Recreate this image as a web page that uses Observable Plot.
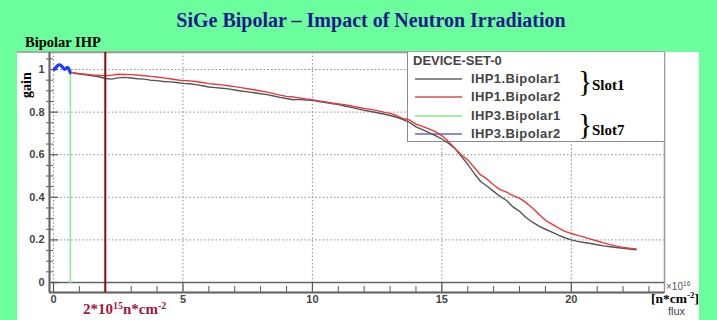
<!DOCTYPE html>
<html>
<head>
<meta charset="utf-8">
<script src="https://cdn.jsdelivr.net/npm/d3@7"></script>
<script src="https://cdn.jsdelivr.net/npm/@observablehq/plot@0.6"></script>
<style>
  body { margin: 0; }
  #root { position: relative; width: 717px; height: 320px; background: #6cfd9c; overflow: hidden; }
  .abs { position: absolute; white-space: nowrap; }
  .serif { font-family: "Liberation Serif", "Times New Roman", serif; font-weight: bold; }
  .sans { font-family: "Liberation Sans", Arial, sans-serif; }
  .sup { font-size: 0.66em; vertical-align: 0.55em; line-height: 0; }
  svg { position: absolute; left: 0; top: 0; }
</style>
</head>
<body>
<div id="root">
  <div class="abs" style="left:17px;top:52px;width:682px;height:268px;background:#fff"></div>
  <div class="abs" style="left:17px;top:51px;width:647px;height:2px;background:#aaa"></div>
  <div id="base"></div>
  <div id="legend"></div>
  <div id="curves"></div>
  <div id="texts"></div>
</div>
<script>
// ---- data ----
const flux = [0.75,1.00,1.25,1.50,1.75,2.00,2.25,2.50,2.75,3.00,3.25,3.50,3.75,4.00,4.25,4.50,4.75,5.00,5.25,5.50,5.75,6.00,6.25,6.50,6.75,7.00,7.25,7.50,7.75,8.00,8.25,8.50,8.75,9.00,9.25,9.50,9.75,10.00,10.25,10.50,10.75,11.00,11.25,11.50,11.75,12.00,12.25,12.50,12.75,13.00,13.25,13.50,13.75,14.00,14.25,14.50,14.75,15.00,15.25,15.50,15.75,16.00,16.25,16.50,16.75,17.00,17.25,17.50,17.75,18.00,18.25,18.50,18.75,19.00,19.25,19.50,19.75,20.00,20.25,20.50,20.75,21.00,21.25,21.50,21.75,22.00,22.25,22.50];
const gainIHP1Bipolar1 = [0.984,0.979,0.975,0.971,0.966,0.958,0.955,0.961,0.963,0.960,0.957,0.955,0.950,0.948,0.944,0.942,0.939,0.935,0.933,0.929,0.924,0.918,0.915,0.912,0.909,0.904,0.899,0.895,0.891,0.886,0.882,0.876,0.869,0.864,0.858,0.860,0.857,0.855,0.850,0.845,0.840,0.835,0.829,0.822,0.815,0.808,0.803,0.797,0.791,0.784,0.776,0.765,0.752,0.731,0.718,0.704,0.690,0.674,0.654,0.630,0.592,0.555,0.512,0.474,0.452,0.428,0.404,0.385,0.355,0.334,0.305,0.283,0.265,0.250,0.236,0.222,0.210,0.200,0.193,0.188,0.183,0.177,0.172,0.168,0.164,0.160,0.157,0.154];
const gainIHP1Bipolar2 = [0.985,0.981,0.978,0.975,0.973,0.970,0.974,0.978,0.977,0.976,0.974,0.971,0.968,0.965,0.961,0.957,0.952,0.948,0.947,0.944,0.939,0.934,0.931,0.928,0.924,0.920,0.915,0.910,0.905,0.899,0.894,0.887,0.880,0.874,0.871,0.867,0.862,0.858,0.853,0.848,0.843,0.839,0.835,0.829,0.823,0.817,0.813,0.807,0.800,0.794,0.784,0.770,0.763,0.744,0.733,0.721,0.708,0.690,0.662,0.630,0.600,0.576,0.540,0.505,0.485,0.458,0.436,0.424,0.408,0.396,0.375,0.350,0.320,0.292,0.274,0.256,0.240,0.230,0.221,0.213,0.204,0.195,0.186,0.178,0.171,0.165,0.161,0.158];
const fluxIHP3Bipolar1 = [0.65, 0.65];
const gainIHP3Bipolar1 = [0.985, 0.0];
const fluxIHP3Bipolar2 = [0.03,0.08,0.13,0.18,0.23,0.28,0.33,0.38,0.43,0.48,0.53,0.58,0.62,0.65];
const gainIHP3Bipolar2 = [1.000,1.008,1.015,1.020,1.022,1.020,1.014,1.006,1.001,1.004,1.010,1.006,0.995,0.985];
const markerFlux = [2];
const seriesNames = ["IHP1.Bipolar1","IHP1.Bipolar2","IHP3.Bipolar1","IHP3.Bipolar2"];
const seriesColors = ["#555555","#e8393c","#90ee90","#1f3cff"];
const legendColors = ["#8a8a8a","#e27a7a","#a6eaa6","#8c8cd8"];
const xTicks = [0,5,10,15,20];
const xTickLabels = ["0","5","10","15","20"];
const xMinor = [1,2,3,4,6,7,8,9,11,12,13,14,16,17,18,19,21,22,23];
const yTicks = [0,0.2,0.4,0.6,0.8,1];
const yTickLabels = ["0","0.2","0.4","0.6","0.8","1"];
const yMinor = [0.05,0.1,0.15,0.25,0.3,0.35,0.45,0.5,0.55,0.65,0.7,0.75,0.85,0.9,0.95,1.05];

// ---- layout ----
const W = 717, H = 320, mL = 49, mR = 53, mT = 52, mB = 28;
const xDom = [-0.155, 23.6], yDom = [-0.047, 1.08];
const pxX = (W - mL - mR) / (xDom[1] - xDom[0]);
const pxY = (H - mT - mB) / (yDom[1] - yDom[0]);
const common = {
  width: W, height: H, marginLeft: mL, marginRight: mR, marginTop: mT, marginBottom: mB,
  style: {background: "transparent", overflow: "visible", maxWidth: "none"},
  x: {domain: xDom, axis: null}, y: {domain: yDom, axis: null}
};
const labelFont = {fontFamily: "Liberation Sans, Arial, sans-serif", fontWeight: "bold", fontSize: 11, fill: "#444"};

const base = Plot.plot({
  ...common,
  marks: [
    Plot.ruleX(xTicks, {stroke: "#8a8a8a", strokeDasharray: "1.5,2.2", strokeWidth: 1}),
    Plot.ruleY(yTicks.filter(d => d > 0), {stroke: "#8a8a8a", strokeDasharray: "1.5,2.2", strokeWidth: 1}),
    Plot.ruleY([0], {stroke: "#666", strokeWidth: 1.5}),
    Plot.ruleY(yMinor, {x1: xDom[0] - 3 / pxX, x2: xDom[0] + 4 / pxX, stroke: "#555", strokeWidth: 1}),
    Plot.ruleY(yTicks, {x1: xDom[0], x2: xDom[0] + 9 / pxX, stroke: "#555", strokeWidth: 1.2}),
    Plot.ruleX(xMinor, {y1: yDom[0], y2: yDom[0] + 6 / pxY, stroke: "#555", strokeWidth: 1}),
    Plot.ruleX(xTicks, {y1: yDom[0], y2: yDom[0] + 10 / pxY, stroke: "#555", strokeWidth: 1.2}),
    Plot.frame({stroke: "#9a9a9a", strokeWidth: 1.5}),
    Plot.ruleX([xDom[0]], {stroke: "#666", strokeWidth: 2}),
    Plot.ruleY([yDom[0]], {stroke: "#666", strokeWidth: 2}),
    Plot.text(yTicks, {x: xDom[0], y: d => d, text: (d, i) => yTickLabels[i], textAnchor: "end", dx: -5, ...labelFont}),
    Plot.text(xTicks, {x: d => d, y: yDom[0], text: (d, i) => xTickLabels[i], dy: 7, ...labelFont})
  ]
});
document.getElementById("base").appendChild(base);

const curves = Plot.plot({
  ...common,
  marks: [
    Plot.line(flux, {x: d => d, y: (d, i) => gainIHP1Bipolar1[i], stroke: seriesColors[0], strokeWidth: 1.4}),
    Plot.line(flux, {x: d => d, y: (d, i) => gainIHP1Bipolar2[i], stroke: seriesColors[1], strokeWidth: 1.4}),
    Plot.line(fluxIHP3Bipolar1, {x: d => d, y: (d, i) => gainIHP3Bipolar1[i], stroke: seriesColors[2], strokeWidth: 1.6}),
    Plot.line(fluxIHP3Bipolar2, {x: d => d, y: (d, i) => gainIHP3Bipolar2[i], stroke: seriesColors[3], strokeWidth: 3.2}),
    Plot.ruleX(markerFlux, {stroke: "#8b0b0b", strokeWidth: 2})
  ]
});
document.getElementById("curves").appendChild(curves);

// ---- legend ----
const legend = document.getElementById("legend");
let lh = `<div class="abs" style="left:407px;top:52px;width:257px;height:90px;box-sizing:border-box;background:#fff;border-left:1.5px solid #8a8a8a;border-bottom:1.5px solid #8a8a8a"></div>`;
lh += `<div class="abs sans" style="left:413px;top:53px;line-height:16px;font-size:13px;font-weight:bold;color:#444">DEVICE-SET-0</div>`;
const rowY = [79, 97, 116, 134];
seriesNames.forEach((name, i) => {
  lh += `<div class="abs" style="left:415px;top:${rowY[i] - 1}px;width:47px;height:2px;background:${legendColors[i]}"></div>`;
  lh += `<div class="abs sans" style="left:471px;top:${rowY[i] - 8}px;line-height:16px;font-size:13px;font-weight:bold;letter-spacing:0.4px;color:#444">${name}</div>`;
});
legend.innerHTML = lh;

// ---- texts ----
document.getElementById("texts").innerHTML = `
  <div class="abs serif" style="left:0;width:742px;text-align:center;top:8px;line-height:24px;font-size:20px;color:#1a1a8e">SiGe Bipolar – Impact of Neutron Irradiation</div>
  <div class="abs serif" style="left:25px;top:33px;line-height:18px;font-size:14.5px;color:#000">Bipolar IHP</div>
  <div class="abs serif" style="left:20px;top:98px;line-height:14px;font-size:14px;color:#000;transform:rotate(-90deg);transform-origin:0 0">gain</div>
  <div class="abs serif" style="left:578px;top:66px;line-height:30px;font-size:30px;font-weight:normal;color:#000">}</div>
  <div class="abs serif" style="left:592px;top:76px;line-height:18px;font-size:15px;color:#000">Slot1</div>
  <div class="abs serif" style="left:578px;top:109px;line-height:30px;font-size:30px;font-weight:normal;color:#000">}</div>
  <div class="abs serif" style="left:592px;top:121px;line-height:18px;font-size:15px;color:#000">Slot7</div>
  <div class="abs serif" style="left:83px;top:300px;line-height:18px;font-size:15px;color:#a0173c">2*10<span class="sup">15</span>n*cm<span class="sup">-2</span></div>
  <div class="abs sans" style="left:666px;top:280px;line-height:14px;font-size:10px;color:#555">×10<span class="sup">16</span></div>
  <div class="abs serif" style="left:651px;top:292px;line-height:14px;font-size:13.5px;color:#000">[n*cm<span class="sup">-2</span>]</div>
  <div class="abs sans" style="left:668px;top:306px;line-height:11px;font-size:11px;color:#444">flux</div>
`;
</script>
</body>
</html>
